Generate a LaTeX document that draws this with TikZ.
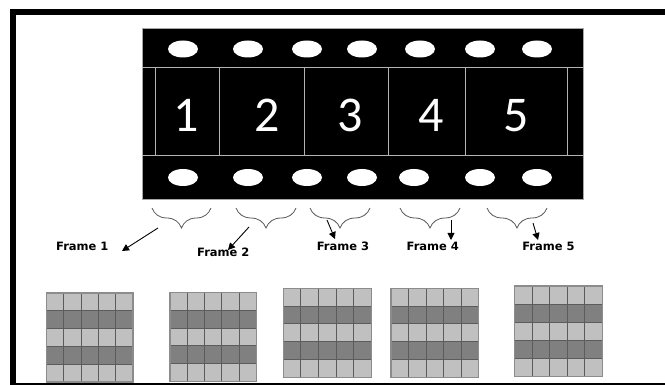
\documentclass[tikz,border=0pt]{standalone}
\usepackage{fontspec}
\usepackage{tikz}
\usetikzlibrary{arrows.meta,positioning,calc,shapes.geometric,decorations.pathreplacing}
\newfontfamily\numfont{Carlito}
\newfontfamily\labfont{DejaVu Sans}
\definecolor{celllight}{HTML}{C0C0C0}
\definecolor{celldark}{HTML}{808080}
\definecolor{cellline}{HTML}{5C5C5C}
\definecolor{gridedge}{HTML}{8C8C8C}
\definecolor{filmgray}{HTML}{B4B4B4}
\tikzset{
  filmline/.style={draw=filmgray, line width=0.9pt},
  hole/.style={ellipse, fill=white, inner sep=0pt, minimum width=30pt, minimum height=17pt},
  filmnum/.style={font=\numfont\fontsize{50}{50}\selectfont, text=white, anchor=base, inner sep=0pt},
  framebrace/.style={decorate, decoration={brace, mirror, amplitude=20pt, aspect=0.5},
                     draw=black!65, line width=0.8pt},
  framearr/.style={-{Triangle[length=7pt,width=7pt]}, draw=black, line width=0.9pt},
  framelab/.style={font=\labfont\bfseries\fontsize{11.5}{12}\selectfont, anchor=base, inner sep=0pt},
}
\newcommand{\stripegrid}[4]{%
  \foreach \r in {0,...,4}{%
    \ifodd\r\relax \def\rc{celldark}\else \def\rc{celllight}\fi
    \fill[fill=\rc] (#1,{#2+\r*#4}) rectangle ++(#3,#4);%
  }%
  \foreach \c in {1,...,4}{%
    \draw[cellline, line width=1.1pt] ({#1+\c*#3/5},#2) -- ++(0,{5*#4});%
  }%
  \foreach \r in {1,...,4}{%
    \draw[cellline, line width=1.1pt] (#1,{#2+\r*#4}) -- ++(#3,0);%
  }%
  \draw[gridedge, line width=1.4pt] (#1,#2) rectangle ++(#3,{5*#4});%
}

\begin{document}
\begin{tikzpicture}[x=1pt,y=-1pt]
\clip (0,0) rectangle (665,385);
\fill[white] (0,0) rectangle (665,385);
\node[fill=black, draw=black!35, line width=0.4pt, inner sep=0pt,
  minimum width=441pt, minimum height=171pt] (film) at (362.5,113.5) {};
\draw[filmline] (142,67) -- (583,67);
\draw[filmline] (142,155) -- (583,155);
\foreach \x in {155,219,304,388,465,567}{%
  \draw[filmline] (\x,67) -- (\x,155);
}
\foreach \x [count=\i] in {183,248,307,362,420,480,537}{%
  \node[hole] (ht\i) at (\x,49) {};
}
\foreach \x [count=\i] in {183,248,307,362,414,480,537}{%
  \node[hole] (hb\i) at (\x,177.5) {};
}
\foreach \x/\d in {186/1,267/2,350/3,431/4,516/5}{%
  \node[filmnum] (n\d) at (\x,131.5) {\d};
}
\foreach \a/\b [count=\i] in {152/211,236/296,310/370,400/460,487/547}{%
  \coordinate (bl\i) at (\a,208);
  \coordinate (br\i) at (\b,208);
  \draw[framebrace] (bl\i) -- (br\i);
}
\node[framelab] (l1) at (82.3,251) {Frame 1};
\node[framelab] (l2) at (223.3,256.5) {Frame 2};
\node[framelab] (l3) at (343,251) {Frame 3};
\node[framelab] (l4) at (432.8,251) {Frame 4};
\node[framelab] (l5) at (548.5,251) {Frame 5};
\coordinate (s1) at (158,228); \coordinate (e1) at (122,251);
\coordinate (s2) at (249,227); \coordinate (e2) at (228,250);
\coordinate (s3) at (327,220); \coordinate (e3) at (335,239);
\coordinate (s4) at (451,220); \coordinate (e4) at (451,240);
\coordinate (s5) at (533,223); \coordinate (e5) at (538,240);
\foreach \i in {1,...,5}{%
  \draw[framearr] (s\i) -- (e\i);
}
\stripegrid{46.5}{293}{86.5}{17.8}
\stripegrid{170}{292.5}{86.5}{17.8}
\stripegrid{283.3}{288.3}{88}{17.8}
\stripegrid{391}{288.3}{87.7}{17.8}
\stripegrid{514.5}{286}{88}{18.1}
\draw[line width=6pt] (13,12) rectangle (720,385.5);
\end{tikzpicture}
\end{document}
